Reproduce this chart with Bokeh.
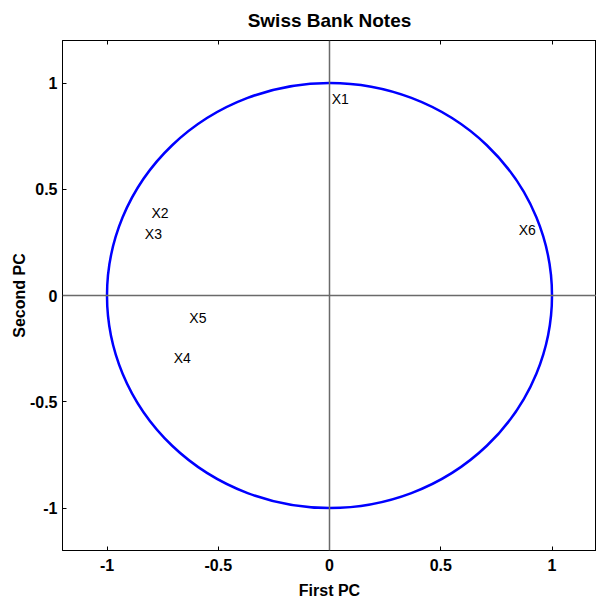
from bokeh.plotting import figure
from bokeh.models import Range1d, LinearAxis, Span, FixedTicker, ColumnDataSource
from bokeh.core.properties import value
from bokeh.embed import file_html
from bokeh.resources import INLINE

labels = ["X1", "X2", "X3", "X4", "X5", "X6"]
first_pc = [0.01, -0.80, -0.83, -0.70, -0.63, 0.85]
second_pc = [0.925, 0.39, 0.29, -0.295, -0.105, 0.31]
ticks = [-1, -0.5, 0, 0.5, 1]
tick_text = {-1: "-1", -0.5: "-0.5", 0: "0", 0.5: "0.5", 1: "1"}

FONT = "Liberation Sans"

p = figure(width=596, height=602, output_backend="svg", toolbar_location=None,
           x_range=Range1d(-1.2, 1.2), y_range=Range1d(-1.2, 1.2),
           min_border_left=62, min_border_right=0, min_border_top=40, min_border_bottom=52,
           title="Swiss Bank Notes")
p.title.align = "center"
p.title.vertical_align = "top"
p.title.text_font = FONT
p.title.text_font_size = "19px"
p.title.text_font_style = "bold"
p.title.text_color = "black"
p.title.standoff = 16
p.grid.visible = False
p.outline_line_color = "black"
p.outline_line_width = 1
p.background_fill_color = "white"
p.border_fill_color = "white"

for ax in (p.xaxis[0], p.yaxis[0]):
    ax.ticker = FixedTicker(ticks=ticks)
    ax.major_tick_in = 4
    ax.major_tick_out = 0
    ax.minor_tick_line_color = None
    ax.axis_line_color = "black"
    ax.major_tick_line_color = "black"
    ax.major_label_text_font = FONT
    ax.major_label_text_font_size = "16px"
    ax.major_label_text_font_style = "bold"
    ax.major_label_text_color = "black"
    ax.axis_label_text_font = FONT
    ax.axis_label_text_font_size = "16px"
    ax.axis_label_text_font_style = "bold"
    ax.axis_label_text_color = "black"
    ax.major_label_overrides = tick_text
p.xaxis[0].axis_label = "First PC"
p.yaxis[0].axis_label = "Second PC"
p.xaxis[0].major_label_standoff = 8
p.yaxis[0].major_label_standoff = 5
p.xaxis[0].axis_label_standoff = 8
p.yaxis[0].axis_label_standoff = -1

top = LinearAxis(ticker=FixedTicker(ticks=ticks), major_tick_in=4, major_tick_out=0,
                 minor_tick_line_color=None, major_label_text_font_size="0px",
                 major_label_standoff=0, axis_label_standoff=0,
                 axis_line_color="black", major_tick_line_color="black")
p.add_layout(top, "above")

p.add_layout(Span(location=0, dimension="width", line_color="#6a6a6a", line_width=1.5))
p.add_layout(Span(location=0, dimension="height", line_color="#6a6a6a", line_width=1.5))

p.ellipse(x=0, y=0, width=2, height=2, fill_color=None, line_color="blue", line_width=2.5)

src = ColumnDataSource(dict(x=first_pc, y=second_pc, t=labels))
p.text(x="x", y="y", text="t", source=src, text_font=value(FONT), text_font_size="14px",
       text_align="left", text_baseline="middle", text_color="black")

open("out.html", "w").write(file_html(p, INLINE))
